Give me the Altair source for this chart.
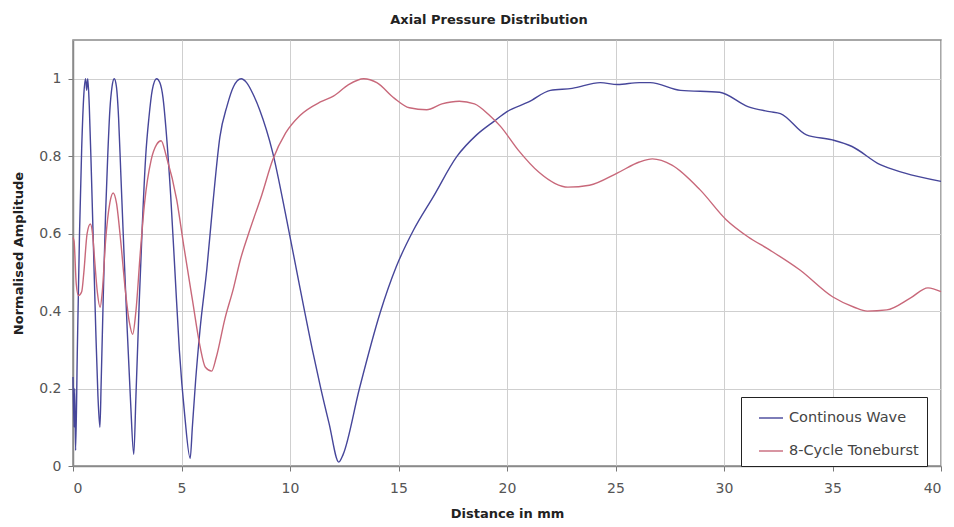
import altair as alt
import pandas as pd

# Continuous wave (distance in mm, normalised amplitude)
cw_x = [0.0, 0.05, 0.08, 0.12, 0.2, 0.3, 0.4, 0.5, 0.58, 0.63, 0.68, 0.75, 0.85, 0.95, 1.05, 1.15, 1.24,
        1.3, 1.4, 1.5, 1.6, 1.7, 1.8, 1.9, 2.0, 2.1, 2.2, 2.35, 2.5, 2.65, 2.8,
        2.9, 3.05, 3.2, 3.35, 3.5, 3.65, 3.85, 4.0, 4.15, 4.3, 4.5, 4.7, 4.9, 5.15, 5.4,
        5.5, 5.65, 5.85, 6.17, 6.45, 6.77, 7.1, 7.4, 7.75, 8.0, 8.3, 8.6, 9.2, 9.85, 10.46, 11.07, 11.4, 11.8, 12.25,
        12.45, 13.2, 14.15, 14.9, 15.7, 16.6, 17.7, 18.6, 19.4, 20.0, 21.0, 22.0, 23.0, 24.3, 25.1, 26.1, 26.6,
        28.0, 29.8, 31.1, 32.1, 32.6, 33.8, 35.0, 35.9, 37.2, 38.3, 40.0]
cw_y = [0.23, 0.1, 0.2, 0.04, 0.3, 0.6, 0.82, 0.96, 1.0, 0.97, 1.0, 0.93, 0.75, 0.55, 0.35, 0.18, 0.1,
        0.22, 0.45, 0.65, 0.8, 0.92, 0.98, 1.0, 0.98, 0.9, 0.76, 0.55, 0.35, 0.17, 0.03,
        0.18, 0.42, 0.63, 0.8, 0.9, 0.97, 1.0, 0.99, 0.95, 0.86, 0.7, 0.5, 0.3, 0.13, 0.02,
        0.1, 0.22, 0.35, 0.51, 0.68, 0.85, 0.93, 0.98, 1.0, 0.99, 0.96, 0.92, 0.81, 0.635, 0.46, 0.29, 0.205, 0.11, 0.01,
        0.03, 0.2, 0.395, 0.515, 0.61, 0.695, 0.8, 0.855, 0.89, 0.915, 0.94, 0.97, 0.975, 0.99, 0.985, 0.99, 0.99,
        0.97, 0.965, 0.928, 0.915, 0.91, 0.855, 0.842, 0.825, 0.778, 0.757, 0.735]

# 8-cycle toneburst
tb_x = [0.0, 0.05, 0.15, 0.25, 0.4, 0.5, 0.65, 0.8, 0.9, 1.0, 1.12, 1.25, 1.35, 1.5, 1.7, 1.85, 2.0, 2.2, 2.4,
        2.6, 2.75, 2.9, 3.1, 3.3, 3.6, 3.85, 4.06, 4.3, 4.78, 5.1, 5.5, 5.85, 6.1, 6.39, 6.6, 7.0, 7.4, 7.7,
        8.15, 8.7, 9.2, 9.8, 10.46, 11.4, 12.0, 12.7, 13.4, 14.0, 14.8, 15.5, 16.3, 17.0, 17.8, 18.5, 19.2,
        19.7, 20.5, 21.5, 22.2, 22.8, 23.8, 25.1, 26.1, 26.7, 27.6, 28.9, 30.1, 31.1, 32.1, 33.5, 35.0, 36.0,
        36.6, 37.5, 38.6, 39.4, 40.0]
tb_y = [0.59, 0.58, 0.47, 0.44, 0.45, 0.5, 0.6, 0.625, 0.6, 0.53, 0.45, 0.41, 0.45, 0.58, 0.68, 0.705, 0.68, 0.58, 0.46,
        0.37, 0.34, 0.4, 0.55, 0.68, 0.79, 0.83, 0.84, 0.8, 0.687, 0.57, 0.43, 0.31, 0.255, 0.245, 0.28, 0.38, 0.46, 0.53,
        0.61, 0.7, 0.79, 0.86, 0.905, 0.94, 0.955, 0.985, 1.0, 0.99, 0.95, 0.925, 0.92, 0.935, 0.942, 0.935, 0.905,
        0.877, 0.817, 0.757, 0.73, 0.72, 0.725, 0.757, 0.785, 0.793, 0.777, 0.713, 0.636, 0.592, 0.558, 0.506, 0.437, 0.41,
        0.40, 0.403, 0.434, 0.46, 0.45]

series_names = ["Continous Wave", "8-Cycle Toneburst"]
series_colors = ["#46469a", "#c8687a"]
x_ticks = [0, 5, 10, 15, 20, 25, 30, 35, 40]
y_ticks = [0, 0.2, 0.4, 0.6, 0.8, 1.0]

df = pd.concat([
    pd.DataFrame({"d": cw_x, "v": cw_y, "s": series_names[0], "o": range(len(cw_x))}),
    pd.DataFrame({"d": tb_x, "v": tb_y, "s": series_names[1], "o": range(len(tb_x))}),
])

font = "DejaVu Sans"

chart = alt.Chart(df).mark_line(strokeWidth=1.4, interpolate="monotone").encode(
    x=alt.X("d:Q", scale=alt.Scale(domain=[0, 40], nice=False),
            axis=alt.Axis(values=x_ticks, title="Distance in mm", format="d",
                          titleY=47, titleBaseline="middle")),
    y=alt.Y("v:Q", scale=alt.Scale(domain=[0, 1.1], nice=False),
            axis=alt.Axis(values=y_ticks, title="Normalised Amplitude", format=".1~f",
                          titleX=-55, titleY=213, titleAngle=-90, titleBaseline="middle")),
    color=alt.Color("s:N", scale=alt.Scale(domain=series_names, range=series_colors),
                    legend=alt.Legend(title=None, orient="none", legendX=668, legendY=357,
                                      symbolType="stroke", symbolSize=576, symbolStrokeWidth=1.4,
                                      symbolOffset=9,
                                      labelFontSize=14.5, labelFont=font, labelColor="#444",
                                      strokeColor="#222", fillColor="white", padding=8,
                                      rowPadding=13, labelOffset=5, labelLimit=300)),
    order="o:Q",
).properties(
    width=868, height=426,
    title=alt.TitleParams("Axial Pressure Distribution", fontSize=13, font=font, fontWeight="bold",
                          color="#222", anchor="middle", dx=-18, dy=15, offset=18, baseline="alphabetic"),
    autosize=alt.AutoSizeParams(type="none"),
    padding={"left": 65, "top": 32, "right": 5, "bottom": 60},
).configure_view(
    stroke="#8a8a8a", strokeWidth=1.5
).configure_axis(
    gridColor="#cfcfcf", gridWidth=1, domainColor="#8a8a8a", domainWidth=1.5,
    tickColor="#777", tickSize=5, labelFont=font, labelFontSize=14, labelColor="#555",
    titleFont=font, titleFontSize=13, titleFontWeight="bold", titleColor="#222"
).configure_axisX(
    labelPadding=10
).configure_axisY(
    labelPadding=7
)

chart.save("out.html", embed_options={"renderer": "svg", "actions": False})
